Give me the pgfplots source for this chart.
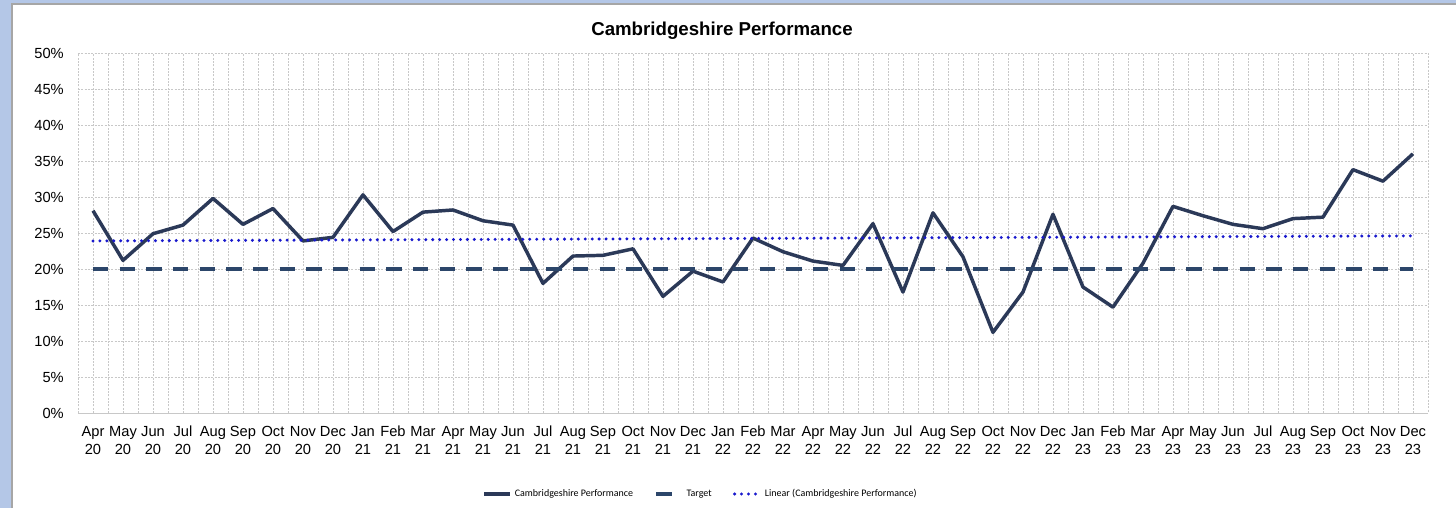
\documentclass[border=0pt]{standalone}
\usepackage{pgfplots}
\pgfplotsset{compat=1.18}
\usepackage{fontspec}
\setmainfont{Liberation Sans}
\newfontfamily\legendfont{Carlito}
\definecolor{cPerf}{RGB}{43,57,88}
\definecolor{cTarget}{RGB}{44,70,106}
\definecolor{cTrend}{RGB}{25,25,205}
\definecolor{cFrame}{RGB}{180,199,231}
\definecolor{cGrid}{RGB}{200,200,200}

% monthly performance, Apr 2020 (0) .. Dec 2023 (44), in %
\pgfplotstableread{
idx val
0 28.1
1 21.2
2 24.9
3 26.1
4 29.8
5 26.2
6 28.4
7 23.9
8 24.4
9 30.3
10 25.2
11 27.9
12 28.2
13 26.7
14 26.1
15 18.0
16 21.8
17 21.9
18 22.8
19 16.2
20 19.7
21 18.2
22 24.3
23 22.4
24 21.1
25 20.5
26 26.3
27 16.8
28 27.8
29 21.7
30 11.2
31 16.8
32 27.6
33 17.5
34 14.7
35 20.8
36 28.7
37 27.4
38 26.2
39 25.6
40 27.0
41 27.2
42 33.8
43 32.2
44 36.0
}\perftable

\begin{document}
\begin{tikzpicture}
% page frame (1 px = 0.75pt, origin = axis south west)
\useasboundingbox (-58.5pt,-71.25pt) rectangle (1033.5pt,309.75pt);
\fill[cFrame] (-58.5pt,-71.25pt) rectangle (1033.5pt,309.75pt);
\fill[white] (-49.5pt,-71.25pt) rectangle (1033.5pt,306.75pt);
\draw[gray!70, line width=0.8pt] (-49.5pt,-71.25pt) -- (-49.5pt,306.75pt) -- (1033.5pt,306.75pt);

\node[font=\fontsize{14}{16}\selectfont\bfseries] at (483pt,286.5pt) {Cambridgeshire Performance};

\begin{axis}[
  scale only axis,
  width=1012.5pt, height=270pt,
  xmin=-0.5, xmax=44.5,
  ymin=0, ymax=50,
  xtick={0,...,44},
  minor x tick num=1,
  ytick={0,5,...,50},
  yticklabels={0\%,5\%,10\%,15\%,20\%,25\%,30\%,35\%,40\%,45\%,50\%},
  xticklabels={{Apr\\20},{May\\20},{Jun\\20},{Jul\\20},{Aug\\20},{Sep\\20},{Oct\\20},{Nov\\20},{Dec\\20},
    {Jan\\21},{Feb\\21},{Mar\\21},{Apr\\21},{May\\21},{Jun\\21},{Jul\\21},{Aug\\21},{Sep\\21},{Oct\\21},{Nov\\21},{Dec\\21},
    {Jan\\22},{Feb\\22},{Mar\\22},{Apr\\22},{May\\22},{Jun\\22},{Jul\\22},{Aug\\22},{Sep\\22},{Oct\\22},{Nov\\22},{Dec\\22},
    {Jan\\23},{Feb\\23},{Mar\\23},{Apr\\23},{May\\23},{Jun\\23},{Jul\\23},{Aug\\23},{Sep\\23},{Oct\\23},{Nov\\23},{Dec\\23}},
  xticklabel style={align=center, font=\fontsize{11}{13.5}\selectfont, inner sep=0pt, yshift=-9.5pt},
  yticklabel style={font=\fontsize{11}{13.5}\selectfont, inner sep=0pt, xshift=-10.5pt},
  major tick length=0pt, minor tick length=0pt,
  xmajorgrids, xminorgrids, ymajorgrids,
  major grid style={cGrid, dash pattern=on 1.5pt off 1pt, line width=0.5pt},
  minor grid style={cGrid, dash pattern=on 1.5pt off 1pt, line width=0.5pt},
  axis line style={cGrid, dash pattern=on 1.5pt off 1pt, line width=0.5pt},
  legend style={at={(0.4615,-0.225)}, anchor=center, draw=none, fill=none,
    font=\legendfont\fontsize{7.5}{9}\selectfont, legend columns=3,
    /tikz/every even column/.append style={column sep=14pt}},
  legend image code/.code={\draw[#1] (0pt,0pt) -- (19.5pt,0pt);},
  legend cell align=left,
]
\addplot[cPerf, line width=2.6pt, line join=round] table[x=idx, y=val] {\perftable};
\addlegendentry{Cambridgeshire Performance}

\addplot[cTarget, line width=2.5pt, dash pattern=on 11.5pt off 8.5pt] coordinates {(0,20) (44,20)};
\addlegendentry{Target}

\addplot[cTrend, line width=2.5pt, line cap=round, dash pattern=on 0pt off 5.2pt] coordinates {(0,23.9) (44,24.6)};
\addlegendentry{Linear (Cambridgeshire Performance)}
\end{axis}
\end{tikzpicture}
\end{document}
